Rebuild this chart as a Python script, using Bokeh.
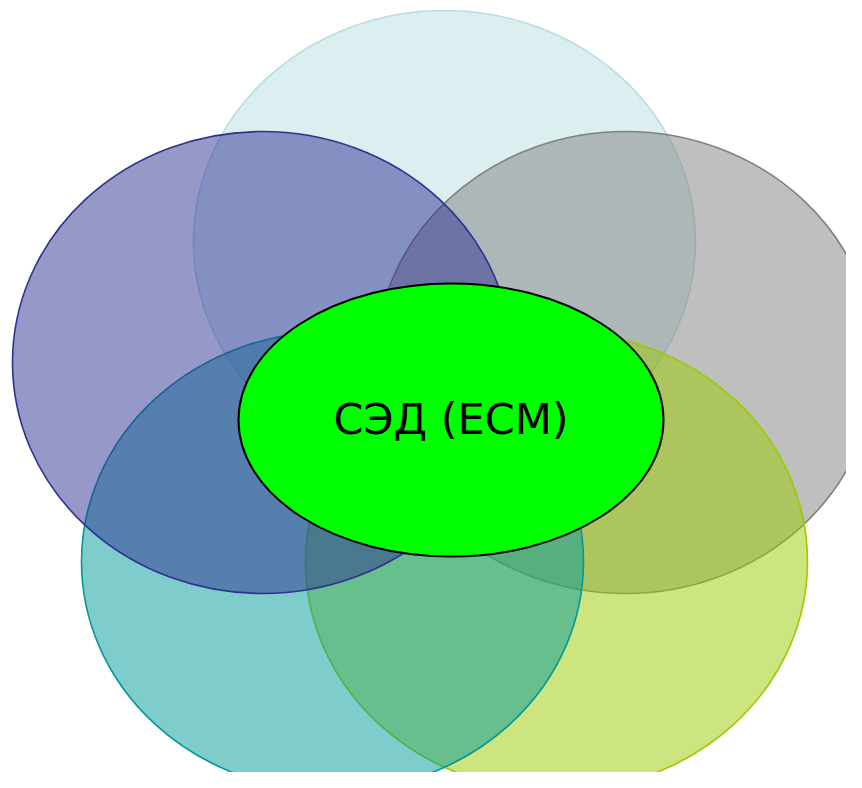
from bokeh.plotting import figure
from bokeh.models import Range1d
from bokeh.core.properties import value
from bokeh.embed import file_html
from bokeh.resources import INLINE

# Diagram items (screen-pixel coordinates of the reference picture)
names = ["top", "right", "bottom_right", "bottom_left", "left"]
cx = [444, 625, 556, 332, 262]
cy = [241, 362, 561, 561, 362]
w = [502, 500, 502, 502, 500]
h = [462, 462, 460, 460, 462]
colors = ["#b7dde1", "#808080", "#99cc00", "#009999", "#2e3192"]

center_label = "СЭД (ECM)"
center_x = [450.5]
center_y = [419.5]
center_w = [425]
center_h = [273]

p = figure(width=846, height=772, output_backend="svg", toolbar_location=None,
           x_range=Range1d(0, 846), y_range=Range1d(772, 0),
           min_border=0, outline_line_color=None, background_fill_color="white")
p.axis.visible = False
p.grid.visible = False

for i in range(len(names)):
    p.ellipse(x=[cx[i]], y=[cy[i]], width=[w[i]], height=[h[i]],
              fill_color=colors[i], fill_alpha=0.5,
              line_color=colors[i], line_width=1.6)

p.ellipse(x=center_x, y=center_y, width=center_w, height=center_h,
          fill_color="#00ff00", line_color="black", line_width=2)

p.text(x=center_x, y=[418], text=[center_label], text_align="center",
       text_baseline="middle", text_font=value("DejaVu Sans"),
       text_font_size="43px", text_color="black")

open("out.html", "w").write(file_html(p, INLINE))
